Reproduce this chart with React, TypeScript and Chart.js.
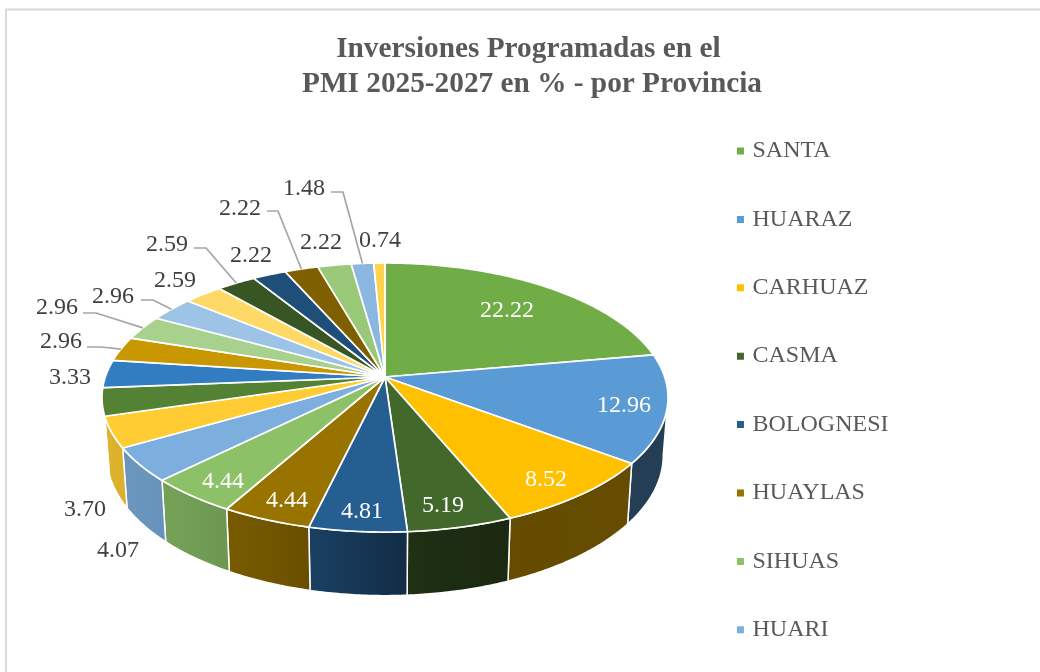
import React, { useEffect, useRef } from "react";
import { Chart, registerables } from "chart.js";

Chart.register(...registerables);

// Only the first eight province names are visible in the picture.
const categories = ["SANTA", "HUARAZ", "CARHUAZ", "CASMA", "BOLOGNESI", "HUAYLAS", "SIHUAS", "HUARI", "", "", "", "", "", "", "", "", "", "", "", "", ""];
const values = [22.22, 12.96, 8.52, 5.19, 4.81, 4.44, 4.44, 4.07, 3.7, 3.33, 3.33, 2.96, 2.96, 2.96, 2.59, 2.59, 2.22, 2.22, 2.22, 1.48, 0.74];
const valueLabels = ["22.22", "12.96", "8.52", "5.19", "4.81", "4.44", "4.44", "4.07", "3.70", "", "3.33", "2.96", "2.96", "2.96", "2.59", "2.59", "2.22", "2.22", "2.22", "1.48", "0.74"];
const colors = ["#70AD47", "#5B9BD5", "#FFC000", "#43682B", "#255E91", "#997300", "#8CC168", "#7CAFDD", "#FFCD33", "#548235", "#327DC2", "#C99700", "#A9D18E", "#9DC3E6", "#FFD966", "#375623", "#1F4E79", "#7F6000", "#98C878", "#8BB6E0", "#FFD34D"];

// Layout of the text and of the perspective drawing
const labelAt: [number, number][] = [[507, 311], [624, 406], [546, 480], [443, 506], [362, 512], [287, 501], [223, 482], [118, 551], [85, 510], [0, 0], [70, 378], [61, 342], [57, 308], [113, 297], [175, 281], [167, 245], [251, 256], [240, 209], [321, 243], [304, 189], [380, 241]];
const insideLabels = [0, 1, 2, 3, 4, 5, 6];
const leaders: Record<number, [number, number][]> = {
  11: [[87, 347], [101, 347]],
  12: [[83, 313], [96, 313]],
  13: [[141, 300], [153, 300]],
  15: [[194, 248], [206, 248]],
  17: [[267, 211], [278, 211]],
  19: [[331, 192], [343, 192]],
};
const K = 0.1525;
const topFace = { cx: 385, cy: 377, A: 279.7, B: 131.4 };
const bottomFace = { cx: 385, cy: 434, A: 275, B: 137 };
const shade: [number, number][] = [[-1, 0.87], [-0.75, 0.83], [-0.55, 0.78], [-0.3, 0.7], [-0.05, 0.55], [0.15, 0.44], [0.5, 0.39], [1, 0.4]];
const FONT = "'Liberation Serif', serif";

type Face = typeof topFace;
const rim = (a: number, f: Face): [number, number] => {
  const u = Math.cos(a), v = Math.sin(a), w = 1 - K * v;
  return [f.cx + (f.A * u) / w, f.cy + (f.B * v) / w];
};
const shadeAt = (u: number) => {
  for (let i = 1; i < shade.length; i++) {
    if (u <= shade[i][0]) {
      const [u0, s0] = shade[i - 1], [u1, s1] = shade[i];
      return s0 + ((s1 - s0) * (u - u0)) / (u1 - u0);
    }
  }
  return shade[shade.length - 1][1];
};
const darken = (hex: string, s: number) => {
  const n = parseInt(hex.slice(1), 16);
  return `rgb(${((n >> 16) & 255) * s},${((n >> 8) & 255) * s},${(n & 255) * s})`;
};
const samples = (a0: number, a1: number) => {
  const n = Math.max(2, Math.ceil((a1 - a0) / 0.01));
  return Array.from({ length: n + 1 }, (_, i) => a0 + ((a1 - a0) * i) / n);
};

const pie3d = {
  id: "pie3d",
  afterLayout(chart: any) {
    const lg = chart.legend;
    const h = lg.bottom - lg.top;
    lg.left = 696;
    lg.right = 696 + 240;
    lg.top = 94.6;
    lg.bottom = lg.top + h;
  },
  beforeDraw(chart: any) {
    const c = chart.ctx;
    c.save();
    c.fillStyle = "#fff";
    c.fillRect(0, 0, chart.width, chart.height);
    c.strokeStyle = "#D9D9D9";
    c.lineWidth = 2;
    c.beginPath();
    c.moveTo(6, chart.height);
    c.lineTo(6, 9.5);
    c.lineTo(chart.width, 9.5);
    c.stroke();
    c.restore();
  },
  beforeDatasetsDraw(chart: any) {
    const c = chart.ctx;
    const arcs = chart.getDatasetMeta(0).data;
    const visMin = Math.asin(K), visMax = Math.PI - visMin;
    c.save();
    c.lineJoin = "round";
    // side wall
    arcs.forEach((arc: any, i: number) => {
      const a0 = Math.max(arc.startAngle, visMin);
      const a1 = Math.min(arc.endAngle, visMax);
      if (a1 <= a0) return;
      const pts = samples(a0, a1);
      const x0 = rim(a0, topFace)[0], x1 = rim(a1, topFace)[0];
      const g = c.createLinearGradient(x0, 0, x1 === x0 ? x0 + 1 : x1, 0);
      for (let s = 0; s <= 6; s++) {
        const t = s / 6;
        const u = (rim(a0 + (a1 - a0) * t, topFace)[0] - 385) / 283;
        g.addColorStop(t, darken(colors[i], shadeAt(u)));
      }
      c.beginPath();
      pts.forEach((a, j) => {
        const p = rim(a, topFace);
        j ? c.lineTo(p[0], p[1]) : c.moveTo(p[0], p[1]);
      });
      pts.slice().reverse().forEach((a) => {
        const p = rim(a, bottomFace);
        c.lineTo(p[0], p[1]);
      });
      c.closePath();
      c.fillStyle = g;
      c.fill();
      c.strokeStyle = "#fff";
      c.lineWidth = 1.5;
      c.stroke();
    });
    // top face
    arcs.forEach((arc: any) => {
      c.beginPath();
      c.moveTo(topFace.cx, topFace.cy);
      samples(arc.startAngle, arc.endAngle).forEach((a) => {
        const p = rim(a, topFace);
        c.lineTo(p[0], p[1]);
      });
      c.closePath();
      c.fillStyle = arc.options.backgroundColor;
      c.fill();
      c.strokeStyle = "#fff";
      c.lineWidth = 1.7;
      c.stroke();
    });
    // leader lines
    c.strokeStyle = "#A6A6A6";
    c.lineWidth = 1.7;
    Object.keys(leaders).forEach((k) => {
      const i = Number(k);
      const arc = arcs[i];
      const end = rim((arc.startAngle + arc.endAngle) / 2, topFace);
      c.beginPath();
      leaders[i].forEach((p, j) => (j ? c.lineTo(p[0], p[1]) : c.moveTo(p[0], p[1])));
      c.lineTo(end[0], end[1]);
      c.stroke();
    });
    // value labels
    c.font = `24px ${FONT}`;
    c.textAlign = "center";
    c.textBaseline = "middle";
    valueLabels.forEach((t, i) => {
      if (!t) return;
      c.fillStyle = insideLabels.includes(i) ? "#FFFFFF" : "#404040";
      c.fillText(t, labelAt[i][0], labelAt[i][1]);
    });
    c.restore();
    return false;
  },
};

export default function App() {
  const ref = useRef<HTMLCanvasElement>(null);
  useEffect(() => {
    document.body.style.margin = "0";
    const chart = new Chart(ref.current as HTMLCanvasElement, {
      type: "pie",
      data: {
        labels: categories,
        datasets: [{ data: values, backgroundColor: colors, borderWidth: 0 }],
      },
      options: {
        animation: false,
        responsive: false,
        maintainAspectRatio: false,
        plugins: {
          tooltip: { enabled: false },
          title: {
            display: true,
            text: ["Inversiones Programadas en el ", "PMI 2025-2027 en % - por Provincia"],
            color: "#595959",
            font: { family: FONT, size: 29.3, weight: "bold", lineHeight: 1.19 },
            padding: { top: 32, bottom: 10 },
          },
          legend: {
            display: true,
            position: "right",
            align: "start",
            labels: {
              color: "#595959",
              font: { family: FONT, size: 24 },
              usePointStyle: true,
              pointStyle: "rect",
              boxWidth: 0.1,
              boxHeight: 7,
              padding: 44.4,
              filter: (item: any) => !!item.text,
            },
          },
        },
      },
      plugins: [pie3d],
    } as any);
    return () => chart.destroy();
  }, []);
  return (
    <div style={{ position: "absolute", left: 0, top: 0, width: 1040, height: 672, overflow: "hidden", background: "#fff" }}>
      <canvas ref={ref} width={1064} height={780} style={{ display: "block" }} />
    </div>
  );
}
